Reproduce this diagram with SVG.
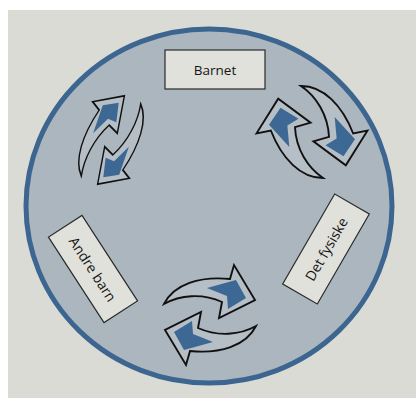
<svg xmlns="http://www.w3.org/2000/svg" width="416" height="398" viewBox="0 0 416 398">
<style>
.box{fill:#e1e1db;stroke:#2a2a2a;stroke-width:1.2}
.lbl{font-family:"Open Sans","Liberation Sans",sans-serif;font-size:14px;fill:#151515;text-anchor:middle;dominant-baseline:central}
.arr{fill:#b6bec6;stroke:#111;stroke-width:1.9;stroke-linejoin:miter}
.blue{fill:#3d6894}
</style>
<defs>
<g id="half">
<path class="arr" d="M -46,-11 C -36,-31 -10,-39 20,-36 L 24,-50 L 45,-15 L 9,3 L 12,-13 C -8,-22 -30,-20 -46,-11 Z"/>
<path class="blue" d="M -3,-27 L 26,-35 L 36,-17 L 18,-6 L 17,-19 Z"/>
</g>
<g id="pair">
<use href="#half"/>
<use href="#half" transform="rotate(180)"/>
</g>
</defs>
<rect x="0" y="0" width="416" height="398" fill="#ffffff"/>
<rect x="8" y="10" width="408" height="388" fill="#dbdbd6"/>
<ellipse cx="209" cy="206" rx="183" ry="177" fill="#abb6bf" stroke="#3c6590" stroke-width="5"/>
<g id="connectors">
<use id="cycle-left" href="#pair" transform="translate(111,140) rotate(-60) scale(1,0.7)"/>
<use id="cycle-right" href="#pair" transform="translate(312,132) rotate(-117)"/>
<use id="cycle-bottom" href="#pair" transform="translate(210,315)"/>
</g>
<g id="node-barnet">
<rect class="box" x="165" y="50" width="100" height="39"/>
<text class="lbl" x="215" y="70" style="font-size:13.5px">Barnet</text>
</g>
<g id="node-andre-barn" transform="translate(93,269) rotate(57)">
<rect class="box" x="-51" y="-20" width="102" height="40"/>
<text class="lbl" x="0" y="0">Andre barn</text>
</g>
<g id="node-det-fysiske" transform="translate(326,249) rotate(-60)">
<rect class="box" x="-52" y="-20" width="104" height="40"/>
<text class="lbl" x="0" y="0">Det fysiske</text>
</g>
</svg>
